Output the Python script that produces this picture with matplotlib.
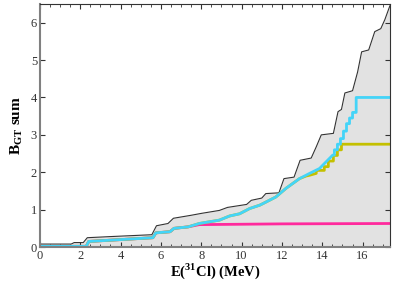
import matplotlib.pyplot as plt
from matplotlib.ticker import MultipleLocator

plt.rcParams['font.family'] = ['Liberation Serif', 'DejaVu Serif']
plt.rcParams['mathtext.fontset'] = 'custom'
plt.rcParams['mathtext.rm'] = 'Liberation Serif'
plt.rcParams['mathtext.bf'] = 'Liberation Serif:bold'

# total B(GT) sum (black envelope, grey fill)
E_tot = [0, 1.55, 1.7, 2.15, 2.35, 3.5, 5.55, 5.78, 6.35, 6.62, 7.5, 8.0, 8.9, 9.3,
         10.25, 10.48, 11.0, 11.2, 11.85, 12.1, 12.6, 12.9, 13.45, 13.7, 13.95, 14.55,
         14.78, 14.95, 15.12, 15.5, 15.75, 15.95, 16.3, 16.6, 16.9, 17.1, 17.35]
B_tot = [0.08, 0.08, 0.12, 0.12, 0.25, 0.28, 0.33, 0.57, 0.63, 0.77, 0.85, 0.9, 0.98, 1.06,
         1.14, 1.25, 1.31, 1.43, 1.45, 1.83, 1.87, 2.32, 2.38, 2.68, 3.0, 3.04,
         3.62, 3.68, 4.12, 4.18, 4.68, 5.22, 5.27, 5.76, 5.84, 6.08, 6.45]

# shared low-energy part of the coloured curves
E_low = [0, 2.3, 2.42, 5.6, 5.75, 6.45, 6.65, 7.35]
B_low = [0.02, 0.02, 0.15, 0.25, 0.38, 0.41, 0.5, 0.54]

# cyan
E_cy = [7.9, 8.9, 9.4, 9.9, 10.4, 10.9, 11.05, 11.7, 12.2, 12.87, 13.37, 13.86, 14.19,
        14.52, 14.6, 14.6, 14.75, 14.75, 14.9, 14.9, 15.05, 15.05, 15.2, 15.2, 15.35,
        15.35, 15.5, 15.5, 15.68, 15.68, 17.35]
B_cy = [0.63, 0.72, 0.83, 0.89, 1.03, 1.12, 1.16, 1.34, 1.57, 1.83, 1.97, 2.1, 2.28,
        2.46, 2.46, 2.6, 2.6, 2.75, 2.75, 2.9, 2.9, 3.1, 3.1, 3.3, 3.3,
        3.45, 3.45, 3.6, 3.6, 4.0, 4.0]

# yellow (departs from cyan above ~13.2 MeV)
E_ye = [7.9, 8.9, 9.4, 9.9, 10.4, 10.9, 11.05, 11.7, 12.2, 12.87, 13.2, 13.37, 13.7, 13.7,
        14.1, 14.1, 14.3, 14.3, 14.55, 14.55, 14.75, 14.75, 14.95, 14.95, 17.35]
B_ye = [0.63, 0.72, 0.83, 0.89, 1.03, 1.12, 1.16, 1.34, 1.57, 1.83, 1.9, 1.92, 1.97, 2.05,
        2.05, 2.15, 2.15, 2.3, 2.3, 2.45, 2.45, 2.6, 2.6, 2.75, 2.75]

# magenta (flat above ~7.5 MeV)
E_ma = [7.9, 10.0, 12.0, 17.35]
B_ma = [0.6, 0.61, 0.62, 0.63]

fig = plt.figure(figsize=(3.95, 2.83), dpi=100)
ax = fig.add_axes([0.101, 0.127, 0.886, 0.859])

ax.fill_between(E_tot, B_tot, 0, color='#e2e2e2', lw=0)
ax.plot(E_tot, B_tot, color='#333333', lw=0.8)
ax.plot(E_low + E_ma, B_low + B_ma, color='#ff2a9d', lw=2)
ax.plot(E_low + E_ye, B_low + B_ye, color='#c4c000', lw=2)
ax.plot(E_low + E_cy, B_low + B_cy, color='#44d4f8', lw=2)

ax.set_xlim(0, 17.35)
ax.set_ylim(0, 6.5)
ax.xaxis.set_major_locator(MultipleLocator(2))
ax.xaxis.set_minor_locator(MultipleLocator(0.5))
ax.yaxis.set_major_locator(MultipleLocator(1))
ax.tick_params(which='both', direction='in', top=True, right=True,
               labelsize=9, colors='#333333', pad=2)
ax.tick_params(which='major', length=3.5)
ax.tick_params(which='minor', length=2)

for side in ['left', 'bottom']:
    ax.spines[side].set_color('#808080')
    ax.spines[side].set_linewidth(1.5)
for side in ['top', 'right']:
    ax.spines[side].set_color('#333333')
    ax.spines[side].set_linewidth(0.8)

ax.set_xlabel(r'E($^{\mathbf{31}}$Cl) (MeV)', fontsize=10.5, fontweight='bold', labelpad=0)
ax.set_ylabel(r'$\mathbf{B}_{\mathbf{GT}}$ sum', fontsize=11, fontweight='bold', labelpad=4)

fig.savefig('out.png', dpi=100)
